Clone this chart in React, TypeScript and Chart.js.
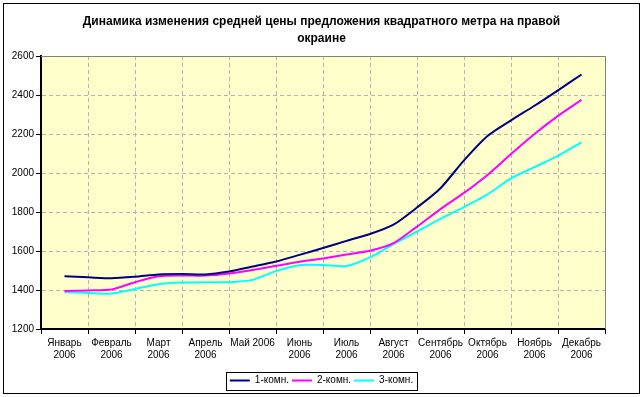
import React, { useEffect, useRef } from 'react';
import { Chart, registerables } from 'chart.js';

Chart.register(...registerables);

const titleLines = [
  'Динамика изменения средней цены предложения квадратного метра на правой',
  'окраине',
];
const xLabels: (string | string[])[] = [
  ['Январь', '2006'],
  ['Февраль', '2006'],
  ['Март', '2006'],
  ['Апрель', '2006'],
  'Май 2006',
  ['Июнь', '2006'],
  ['Июль', '2006'],
  ['Август', '2006'],
  ['Сентябрь', '2006'],
  ['Октябрь', '2006'],
  ['Ноябрь', '2006'],
  ['Декабрь', '2006'],
];
// sample positions in months (0 = January, 0.5 = mid-way to February ...)
const samplePos = [0, 0.5, 1, 1.5, 2, 2.5, 3, 3.5, 4, 4.5, 5, 5.5, 6, 6.5, 7, 7.5, 8, 8.5, 9, 9.5, 10, 10.5, 11];
const oneRoom = [1470, 1465, 1460, 1468, 1480, 1482, 1480, 1495, 1520, 1546, 1580, 1615, 1652, 1687, 1735, 1823, 1922, 2065, 2190, 2270, 2345, 2424, 2505];
const twoRoom = [1395, 1398, 1402, 1440, 1470, 1474, 1474, 1485, 1503, 1524, 1545, 1562, 1582, 1601, 1640, 1725, 1815, 1898, 1990, 2097, 2200, 2293, 2375];
const threeRoom = [1390, 1385, 1382, 1405, 1430, 1438, 1440, 1440, 1452, 1497, 1527, 1528, 1523, 1567, 1635, 1700, 1765, 1825, 1890, 1972, 2030, 2088, 2157];
const seriesNames = ['1-комн.', '2-комн.', '3-комн.'];
const seriesColors = ['#000080', '#FF00FF', '#00FFFF'];
const yMin = 1200;
const yMax = 2600;
const yStep = 200;

const FONT = "'Liberation Sans', Arial, sans-serif";

const toPoints = (vals: number[]) => vals.map((v, i) => ({ x: samplePos[i], y: v }));

const framePlugin = {
  id: 'frame',
  beforeDraw(chart: any) {
    const { ctx, chartArea: a, width, height } = chart;
    ctx.save();
    ctx.fillStyle = '#ffffff';
    ctx.fillRect(0, 0, width, height);
    ctx.strokeStyle = '#000000';
    ctx.lineWidth = 1;
    ctx.strokeRect(3.5, 3.5, width - 7, height - 7);
    ctx.fillStyle = '#FFFFCC';
    ctx.fillRect(a.left, a.top, a.right - a.left, a.bottom - a.top);
    ctx.restore();
  },
  beforeDatasetsDraw(chart: any) {
    const { ctx, chartArea: a } = chart;
    ctx.save();
    ctx.strokeStyle = '#808080';
    ctx.lineWidth = 1;
    ctx.beginPath();
    ctx.moveTo(Math.round(a.left), Math.round(a.top) + 0.5);
    ctx.lineTo(Math.round(a.right) + 0.5, Math.round(a.top) + 0.5);
    ctx.lineTo(Math.round(a.right) + 0.5, Math.round(a.bottom));
    ctx.stroke();
    ctx.restore();
  },
  afterDraw(chart: any) {
    const lg = chart.legend;
    if (!lg || !lg.legendHitBoxes || !lg.legendHitBoxes.length) return;
    const hb = lg.legendHitBoxes;
    let l = Infinity, r = -Infinity, t = Infinity, b = -Infinity;
    hb.forEach((h: any) => {
      l = Math.min(l, h.left);
      r = Math.max(r, h.left + h.width);
      t = Math.min(t, h.top);
      b = Math.max(b, h.top + h.height);
    });
    const { ctx } = chart;
    ctx.save();
    ctx.strokeStyle = '#000';
    ctx.lineWidth = 1;
    ctx.strokeRect(Math.round(l - 4) + 0.5, Math.round(t - 4) + 0.5, Math.round(r - l + 8), Math.round(b - t + 8));
    ctx.restore();
  },
};

export default function App() {
  const ref = useRef<HTMLCanvasElement>(null);
  useEffect(() => {
    if (!ref.current) return;
    Chart.defaults.font.family = FONT;
    Chart.defaults.color = '#000';
    const chart = new Chart(ref.current, {
      type: 'line',
      data: {
        datasets: [oneRoom, twoRoom, threeRoom].map((vals, i) => ({
          label: seriesNames[i],
          data: toPoints(vals),
          borderColor: seriesColors[i],
          backgroundColor: seriesColors[i],
          borderWidth: 2,
          pointRadius: 0,
          tension: 0.25,
          fill: false,
          pointStyle: 'line',
        })),
      },
      options: {
        animation: false,
        responsive: false,
        maintainAspectRatio: false,
        layout: { padding: { left: 4, right: 4, top: 0, bottom: 1.5 } },
        plugins: {
          title: {
            display: true,
            text: titleLines,
            color: '#000',
            font: { family: FONT, size: 12, weight: 'bold', lineHeight: 1.35 },
            padding: { top: 14, bottom: 9.6 },
          },
          legend: {
            display: true,
            position: 'bottom',
            labels: {
              usePointStyle: true,
              pointStyleWidth: 20,
              padding: 3,
              color: '#000',
              font: { family: FONT, size: 10 },
            },
          },
          tooltip: { enabled: false },
        },
        scales: {
          x: {
            type: 'linear',
            min: -0.5,
            max: 11.5,
            afterBuildTicks: (scale: any) => {
              const t: any[] = [];
              for (let i = 0; i <= xLabels.length * 2; i++) t.push({ value: -0.5 + i * 0.5 });
              scale.ticks = t;
            },
            afterFit: (scale: any) => {
              scale.height = 43.5;
            },
            grid: {
              color: (c: any) => (Number.isInteger(c.tick?.value) ? 'rgba(0,0,0,0)' : '#B4B4B4'),
              tickColor: (c: any) => (Number.isInteger(c.tick?.value) ? 'rgba(0,0,0,0)' : '#000'),
              tickLength: 5,
              lineWidth: 1,
              tickWidth: 1,
            },
            border: { display: true, color: '#000', width: 2, dash: [4, 3] },
            ticks: {
              autoSkip: false,
              maxRotation: 0,
              minRotation: 0,
              padding: 3,
              color: '#000',
              font: { family: FONT, size: 10, lineHeight: 1.2 },
              callback: (v: any) => (Number.isInteger(v) ? (xLabels[v] as any) : ''),
            },
          },
          y: {
            type: 'linear',
            min: yMin,
            max: yMax,
            afterFit: (scale: any) => {
              scale.width = 37;
            },
            grid: {
              color: '#B4B4B4',
              tickColor: '#000',
              tickLength: 5,
              lineWidth: 1,
            },
            border: { display: true, color: '#000', width: 2, dash: [4, 3] },
            ticks: {
              stepSize: yStep,
              padding: 2,
              color: '#000',
              font: { family: FONT, size: 10 },
              callback: (v: any) => String(v),
            },
          },
          y2: {
            type: 'linear',
            position: 'right',
            display: true,
            grid: { display: false, drawTicks: false },
            border: { display: false },
            ticks: { display: false },
            afterFit: (scale: any) => {
              scale.width = 34;
            },
          },
        },
      },
      plugins: [framePlugin],
    } as any);
    return () => chart.destroy();
  }, []);
  return (
    <div style={{ position: 'fixed', left: 0, top: 0, width: 643, height: 397, background: '#fff' }}>
      <canvas ref={ref} width={643} height={397} style={{ display: 'block', width: 643, height: 397 }} />
    </div>
  );
}
